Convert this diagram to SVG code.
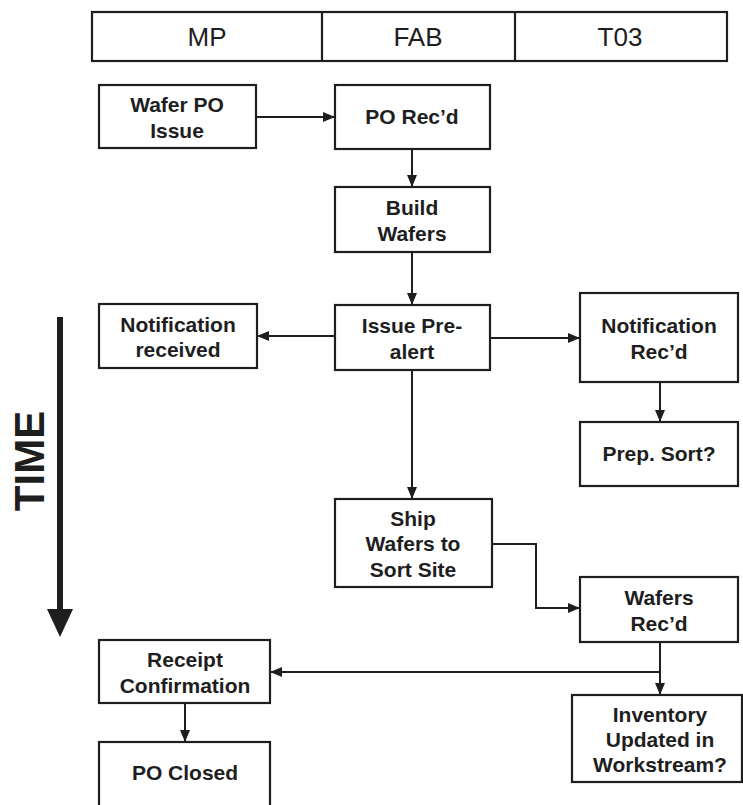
<svg xmlns="http://www.w3.org/2000/svg" width="743" height="805" viewBox="0 0 743 805">
  <defs>
    <marker id="arrow" viewBox="0 0 12 10" refX="12" refY="5" markerWidth="12" markerHeight="10" markerUnits="userSpaceOnUse" orient="auto">
      <path d="M0,0 L12,5 L0,10 z" fill="#1e1e1e"/>
    </marker>
    <style>
      .box { fill: #fff; stroke: #1e1e1e; stroke-width: 2.2; }
      .lbl { font-family: "Liberation Sans", Arial, sans-serif; font-weight: bold; font-size: 21px; fill: #1e1e1e; text-anchor: middle; }
      .hdr { font-family: "Liberation Sans", Arial, sans-serif; font-size: 26px; fill: #1e1e1e; text-anchor: middle; }
      .conn { fill: none; stroke: #1e1e1e; stroke-width: 2; }
    </style>
  </defs>
  <rect width="743" height="805" fill="#fff"/>

  <!-- swimlane header -->
  <g id="header">
    <rect class="box" x="92" y="12" width="635" height="49"/>
    <line x1="322" y1="12" x2="322" y2="61" stroke="#1e1e1e" stroke-width="2.2"/>
    <line x1="515" y1="12" x2="515" y2="61" stroke="#1e1e1e" stroke-width="2.2"/>
    <text class="hdr" x="207" y="46">MP</text>
    <text class="hdr" x="418" y="46">FAB</text>
    <text class="hdr" x="620" y="46">T03</text>
  </g>

  <!-- time axis -->
  <g id="time">
    <rect x="57" y="317" width="6" height="294" fill="#1e1e1e"/>
    <path d="M47,609 L73,609 L60,637 z" fill="#1e1e1e"/>
    <text transform="translate(44,461) rotate(-90)" font-family="Liberation Sans, Arial, sans-serif" font-weight="bold" font-size="42" fill="#1e1e1e" text-anchor="middle">TIME</text>
  </g>

  <!-- connectors -->
  <g id="connectors">
    <line class="conn" x1="256" y1="117" x2="335" y2="117" marker-end="url(#arrow)"/>
    <line class="conn" x1="412" y1="149" x2="412" y2="187" marker-end="url(#arrow)"/>
    <line class="conn" x1="412" y1="252" x2="412" y2="305" marker-end="url(#arrow)"/>
    <line class="conn" x1="335" y1="336" x2="257" y2="336" marker-end="url(#arrow)"/>
    <line class="conn" x1="490" y1="338" x2="580" y2="338" marker-end="url(#arrow)"/>
    <line class="conn" x1="660" y1="382" x2="660" y2="422" marker-end="url(#arrow)"/>
    <line class="conn" x1="412" y1="370" x2="412" y2="499" marker-end="url(#arrow)"/>
    <polyline class="conn" points="492,544 536,544 536,608 580,608" marker-end="url(#arrow)"/>
    <line class="conn" x1="660" y1="642" x2="660" y2="695" marker-end="url(#arrow)"/>
    <line class="conn" x1="660" y1="672" x2="270" y2="672" marker-end="url(#arrow)"/>
    <line class="conn" x1="185" y1="703" x2="185" y2="742" marker-end="url(#arrow)"/>
  </g>

  <g id="wafer-po-issue">
    <rect class="box" x="99" y="85" width="157" height="63"/>
    <text class="lbl" x="177" y="112">Wafer PO</text>
    <text class="lbl" x="177" y="138">Issue</text>
  </g>
  <g id="po-recd">
    <rect class="box" x="335" y="85" width="155" height="64"/>
    <text class="lbl" x="412" y="124">PO Rec’d</text>
  </g>
  <g id="build-wafers">
    <rect class="box" x="335" y="187" width="155" height="65"/>
    <text class="lbl" x="412" y="215">Build</text>
    <text class="lbl" x="412" y="241">Wafers</text>
  </g>
  <g id="notification-received">
    <rect class="box" x="99" y="304" width="158" height="64"/>
    <text class="lbl" x="178" y="332">Notification</text>
    <text class="lbl" x="178" y="357">received</text>
  </g>
  <g id="issue-prealert">
    <rect class="box" x="335" y="305" width="155" height="65"/>
    <text class="lbl" x="412" y="333">Issue Pre-</text>
    <text class="lbl" x="412" y="359">alert</text>
  </g>
  <g id="notification-recd">
    <rect class="box" x="580" y="293" width="158" height="89"/>
    <text class="lbl" x="659" y="333">Notification</text>
    <text class="lbl" x="659" y="359">Rec’d</text>
  </g>
  <g id="prep-sort">
    <rect class="box" x="580" y="422" width="158" height="64"/>
    <text class="lbl" x="659" y="461">Prep. Sort?</text>
  </g>
  <g id="ship-wafers">
    <rect class="box" x="335" y="499" width="157" height="88"/>
    <text class="lbl" x="413" y="526">Ship</text>
    <text class="lbl" x="413" y="551">Wafers to</text>
    <text class="lbl" x="413" y="577">Sort Site</text>
  </g>
  <g id="wafers-recd">
    <rect class="box" x="580" y="577" width="158" height="65"/>
    <text class="lbl" x="659" y="605">Wafers</text>
    <text class="lbl" x="659" y="631">Rec’d</text>
  </g>
  <g id="receipt-confirmation">
    <rect class="box" x="99" y="640" width="171" height="63"/>
    <text class="lbl" x="185" y="667">Receipt</text>
    <text class="lbl" x="185" y="693">Confirmation</text>
  </g>
  <g id="po-closed">
    <rect class="box" x="99" y="742" width="171" height="70"/>
    <text class="lbl" x="185" y="780">PO Closed</text>
  </g>
  <g id="inventory-updated">
    <rect class="box" x="572" y="695" width="170" height="87"/>
    <text class="lbl" x="660" y="722">Inventory</text>
    <text class="lbl" x="660" y="747">Updated in</text>
    <text class="lbl" x="660" y="772">Workstream?</text>
  </g>
</svg>
